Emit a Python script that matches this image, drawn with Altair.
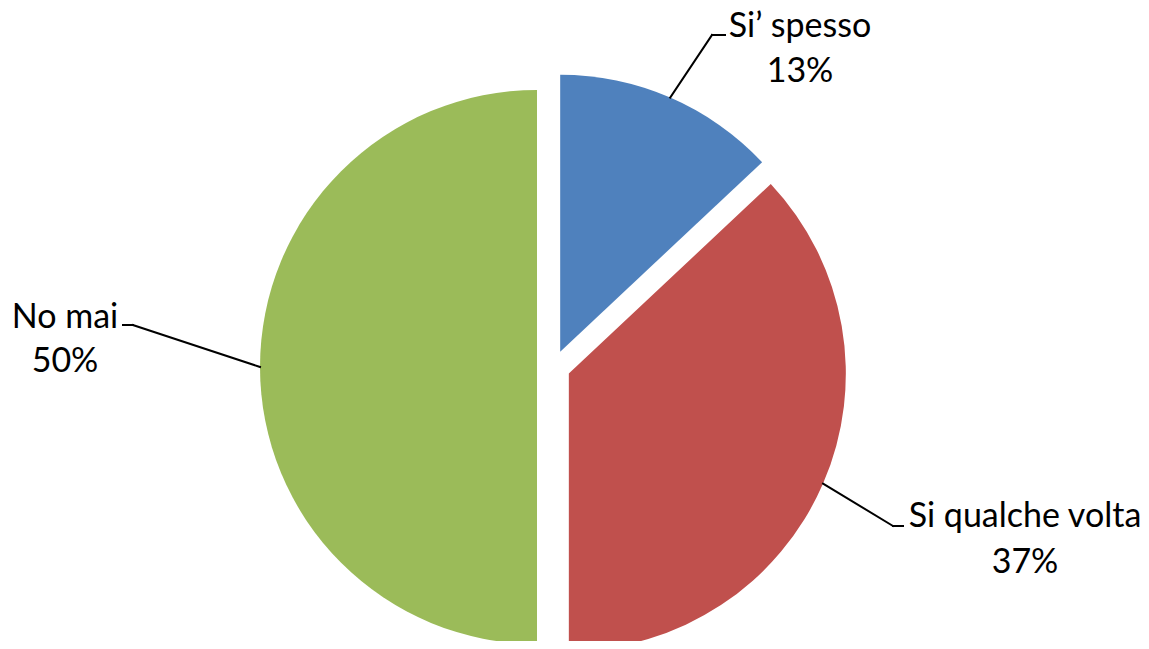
import altair as alt
import pandas as pd

# ---- data ----
categories = ["Si\u2019 spesso", "Si qualche volta", "No mai"]
values = [13, 37, 50]
colors = ["#4F81BD", "#C0504D", "#9BBB59"]

# ---- label layout (chart pixels) ----
label_x = [792, 1017, 57]
name_y = [29, 519, 320]
pct_y = [74, 565, 364]
elbow_x = [704, 885, 125]
elbow_y = [27, 518, 317]
end_x = [717, 895, 115]

CX, CY = 545.6, 359.0   # pie centre
EXPLODE = 16.6          # slice explosion distance
R = 277                 # pie radius

df = pd.DataFrame({
    "idx": list(range(len(categories))),
    "cat": categories,
    "value": values,
    "lx": label_x,
    "ny": name_y,
    "py": pct_y,
    "ex": elbow_x,
    "ey": elbow_y,
    "endx": end_x,
})

base = (
    alt.Chart(df)
    .transform_window(cum="sum(value)", frame=[None, 0], sort=[alt.SortField("idx")])
    .transform_joinaggregate(total="sum(value)")
    .transform_calculate(
        t0="2*PI*(datum.cum - datum.value)/datum.total",
        t1="2*PI*datum.cum/datum.total",
    )
    .transform_calculate(mid="(datum.t0 + datum.t1)/2")
    .transform_calculate(
        cx=f"{CX} + {EXPLODE}*sin(datum.mid)",
        cy=f"{CY} - {EXPLODE}*cos(datum.mid)",
        pct="format(datum.value/datum.total, '.0%')",
    )
    .transform_calculate(
        sx=f"datum.cx + {R}*sin(datum.mid)",
        sy=f"datum.cy - {R}*cos(datum.mid)",
    )
)

arcs = base.mark_arc(outerRadius=R).encode(
    theta=alt.Theta("t0:Q", scale=None),
    theta2=alt.Theta2("t1:Q"),
    x=alt.X("cx:Q", scale=None),
    y=alt.Y("cy:Q", scale=None),
    color=alt.Color("cat:N", scale=alt.Scale(domain=categories, range=colors), legend=None),
)

leader1 = base.mark_rule(color="black", strokeWidth=2, strokeCap="square").encode(
    x=alt.X("sx:Q", scale=None),
    y=alt.Y("sy:Q", scale=None),
    x2="ex:Q",
    y2="ey:Q",
)
leader2 = base.mark_rule(color="black", strokeWidth=2, strokeCap="square").encode(
    x=alt.X("ex:Q", scale=None),
    y=alt.Y("ey:Q", scale=None),
    x2="endx:Q",
    y2="ey:Q",
)

names = base.mark_text(font="Lato", fontSize=34, align="center", baseline="alphabetic", color="black").encode(
    x=alt.X("lx:Q", scale=None),
    y=alt.Y("ny:Q", scale=None),
    text="cat:N",
)
pcts = base.mark_text(font="Lato", fontSize=34, align="center", baseline="alphabetic", color="black").encode(
    x=alt.X("lx:Q", scale=None),
    y=alt.Y("py:Q", scale=None),
    text="pct:N",
)

chart = (
    alt.layer(arcs, leader1, leader2, names, pcts)
    .properties(width=1133, height=633, autosize=alt.AutoSizeParams(type="none"), padding=0, background="white")
    .configure_view(stroke=None)
)

chart.save("out.html", embed_options={"renderer": "svg", "actions": False})
